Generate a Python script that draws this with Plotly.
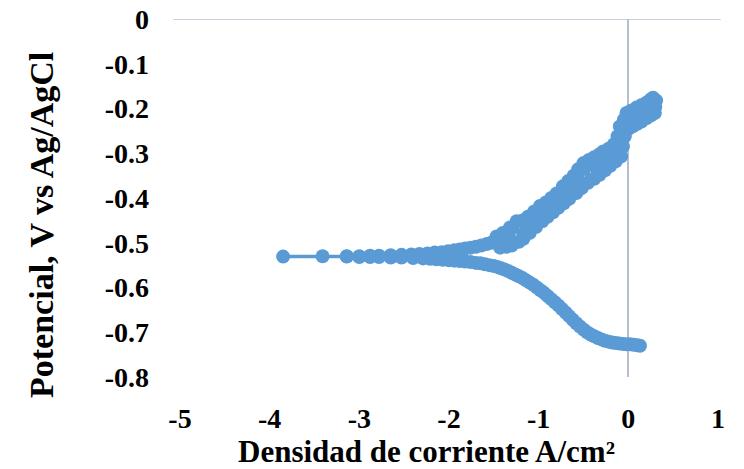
import plotly.graph_objects as go

# Cathodic branch (from the most negative potential end toward Ecorr)
cathodic_x = [0.13, 0.10, 0.06, 0.02, -0.02, -0.06, -0.10, -0.14, -0.18, -0.22,
              -0.26, -0.30, -0.34, -0.38, -0.42, -0.46, -0.50, -0.54, -0.58, -0.62,
              -0.66, -0.70, -0.74, -0.78, -0.82, -0.86, -0.90, -0.94, -0.98, -1.02,
              -1.06, -1.10, -1.14, -1.18, -1.22, -1.26, -1.30, -1.34, -1.38, -1.42,
              -1.46, -1.50, -1.55, -1.60, -1.65, -1.70, -1.76, -1.82, -1.88, -1.94,
              -2.00, -2.07, -2.14, -2.21, -2.29, -2.40, -2.53, -2.65, -2.78, -2.88,
              -3.00, -3.14, -3.85]
cathodic_y = [-0.730, -0.729, -0.728, -0.727, -0.727, -0.726, -0.725, -0.724, -0.723, -0.721,
              -0.719, -0.716, -0.713, -0.709, -0.705, -0.700, -0.694, -0.687, -0.680, -0.672,
              -0.664, -0.656, -0.648, -0.640, -0.633, -0.626, -0.619, -0.612, -0.606, -0.600,
              -0.594, -0.589, -0.584, -0.579, -0.575, -0.571, -0.567, -0.563, -0.560, -0.557,
              -0.554, -0.552, -0.550, -0.548, -0.546, -0.545, -0.543, -0.542, -0.541, -0.540,
              -0.539, -0.538, -0.537, -0.536, -0.535, -0.534, -0.533, -0.533, -0.532, -0.532,
              -0.532, -0.531, -0.531]

# Anodic branch (from Ecorr toward the most positive potential)
anodic_x = [-3.41, -3.14, -3.00, -2.88, -2.78, -2.65, -2.53, -2.42, -2.33, -2.24,
            -2.16, -2.08, -2.01, -1.94, -1.88, -1.82, -1.76, -1.70, -1.64, -1.58,
            -1.53, -1.47, -1.43, -1.40, -1.36, -1.32, -1.30, -1.245, -1.22, -1.18,
            -1.17, -1.12, -1.10, -1.05, -1.03, -0.985, -0.96, -0.92, -0.90, -0.86,
            -0.84, -0.80, -0.78, -0.73, -0.72, -0.67, -0.66, -0.61, -0.58, -0.56,
            -0.52, -0.50, -0.45, -0.44, -0.38, -0.38, -0.32, -0.32, -0.26, -0.28,
            -0.20, -0.22, -0.14, -0.16, -0.08, -0.12, -0.06, -0.095, -0.04, -0.05,
            0.00, -0.02, 0.05, 0.03, 0.10, 0.09, 0.147, 0.15, 0.20, 0.21,
            0.25, 0.25, 0.295, 0.276, 0.31, 0.30]
anodic_y = [-0.530, -0.530, -0.530, -0.529, -0.529, -0.528, -0.527, -0.526, -0.525, -0.524,
            -0.522, -0.521, -0.519, -0.517, -0.515, -0.513, -0.511, -0.509, -0.506, -0.503,
            -0.500, -0.486, -0.511, -0.478, -0.509, -0.466, -0.506, -0.452, -0.498, -0.450,
            -0.491, -0.442, -0.478, -0.430, -0.465, -0.418, -0.452, -0.410, -0.442, -0.400,
            -0.432, -0.390, -0.422, -0.374, -0.412, -0.362, -0.402, -0.350, -0.389, -0.336,
            -0.378, -0.322, -0.366, -0.315, -0.357, -0.309, -0.348, -0.302, -0.338, -0.296,
            -0.328, -0.290, -0.318, -0.280, -0.307, -0.262, -0.285, -0.240, -0.262, -0.225,
            -0.246, -0.210, -0.240, -0.205, -0.234, -0.198, -0.229, -0.192, -0.222, -0.186,
            -0.216, -0.180, -0.210, -0.176, -0.182, -0.197]

x_tick_vals = [-5, -4, -3, -2, -1, 0, 1]
x_tick_text = ["-5", "-4", "-3", "-2", "-1", "0", "1"]
y_tick_vals = [0, -0.1, -0.2, -0.3, -0.4, -0.5, -0.6, -0.7, -0.8]
y_tick_text = ["0", "-0.1", "-0.2", "-0.3", "-0.4", "-0.5", "-0.6", "-0.7", "-0.8"]

x_title = "Densidad de corriente A/cm²"
y_title = "Potencial, V vs Ag/AgCl"

BLUE = "#5B9BD5"
AXIS = "#B4BFD2"
FONT = "Liberation Serif"

fig = go.Figure()
fig.add_trace(go.Scatter(
    x=cathodic_x + anodic_x,
    y=cathodic_y + anodic_y,
    mode="lines+markers",
    line=dict(color=BLUE, width=3.5),
    marker=dict(color=BLUE, size=14, line=dict(width=0)),
    showlegend=False,
    hoverinfo="skip",
))

fig.update_layout(
    width=744, height=469,
    margin=dict(l=180, r=26, t=19, b=92, autoexpand=False),
    paper_bgcolor="white", plot_bgcolor="white",
    showlegend=False,
    xaxis=dict(
        range=[-5, 1], tickmode="array", tickvals=x_tick_vals, ticktext=x_tick_text,
        showgrid=False, zeroline=True, zerolinecolor=AXIS, zerolinewidth=1.5,
        showline=False, ticks="", ticklabelstandoff=22, automargin=False,
        tickfont=dict(family=FONT, size=28, color="black", weight="bold"),
    ),
    yaxis=dict(
        range=[-0.8, 0], tickmode="array", tickvals=y_tick_vals, ticktext=y_tick_text,
        showgrid=False, zeroline=False, showline=False, ticks="", ticklabelstandoff=30,
        automargin=False,
        tickfont=dict(family=FONT, size=28, color="black", weight="bold"),
    ),
    shapes=[dict(type="line", xref="paper", x0=-0.012, x1=1.005, yref="y", y0=0, y1=0,
                 line=dict(color=AXIS, width=1.5), layer="below")],
    annotations=[
        dict(text=x_title, xref="paper", yref="paper", x=(426.5 - 180) / 538, y=-0.208,
             showarrow=False, xanchor="center", yanchor="middle",
             font=dict(family=FONT, size=31, color="black", weight="bold")),
        dict(text=y_title, xref="paper", yref="paper", x=(41 - 180) / 538, y=(377 - 225) / 358,
             showarrow=False, xanchor="center", yanchor="middle", textangle=-90,
             font=dict(family=FONT, size=34, color="black", weight="bold")),
    ],
)

fig.write_html("out.html", config={"displayModeBar": False},
               post_script="document.body.style.margin='0';")
